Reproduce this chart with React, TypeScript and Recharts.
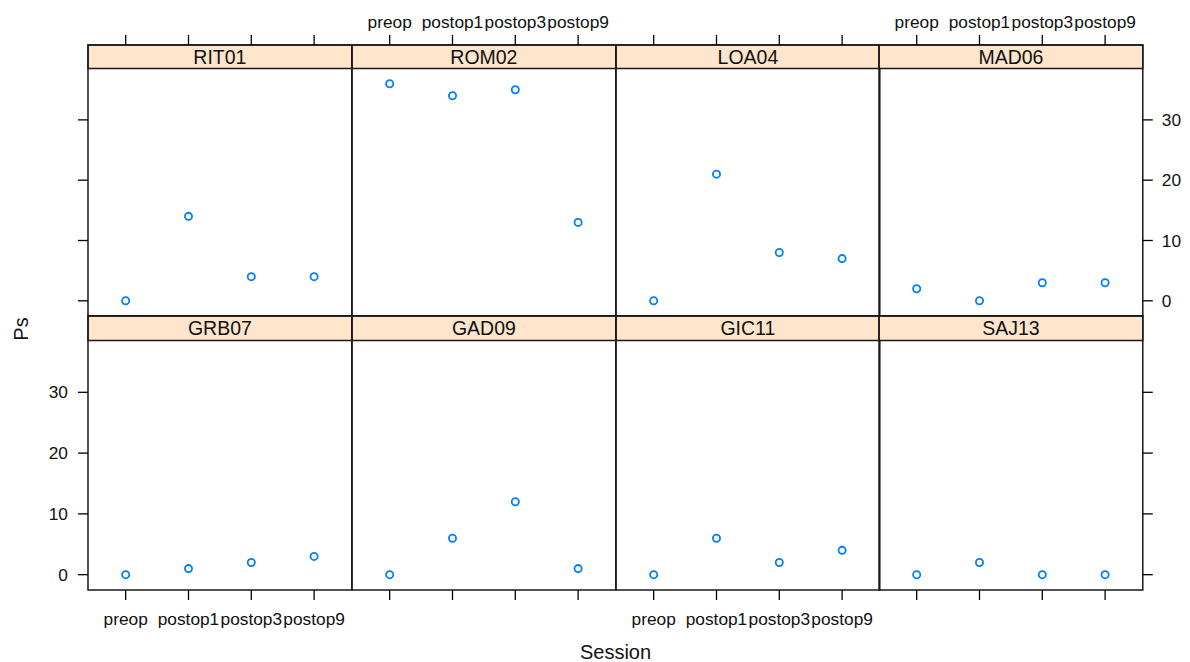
import React from 'react';
import { ScatterChart, Scatter, XAxis, YAxis, ReferenceArea } from 'recharts';

// ---- data ----
const sessions = ['preop', 'postop1', 'postop3', 'postop9'];
const subjects = ['RIT01', 'ROM02', 'LOA04', 'MAD06', 'GRB07', 'GAD09', 'GIC11', 'SAJ13'];
const RIT01 = [0, 14, 4, 4];
const ROM02 = [36, 34, 35, 13];
const LOA04 = [0, 21, 8, 7];
const MAD06 = [2, 0, 3, 3];
const GRB07 = [0, 1, 2, 3];
const GAD09 = [0, 6, 12, 1];
const GIC11 = [0, 6, 2, 4];
const SAJ13 = [0, 2, 0, 0];
const psValues = [RIT01, ROM02, LOA04, MAD06, GRB07, GAD09, GIC11, SAJ13];
const yTicks = [0, 10, 20, 30];
const xTicks = [1, 2, 3, 4];

// ---- layout ----
const FONT = '"Liberation Sans", Arial, Helvetica, sans-serif';
const ROWS = [
  { top: 45, stripBottom: 68.5, bottom: 316 },
  { top: 316, stripBottom: 340.5, bottom: 590 },
];
const COL_LEFT = 88;
const PANEL_W = 263.8;
const PAD = 70;
const VPAD = 40;
const STRIP_FILL = '#ffe5cc';
const BORDER = '#1a1a1a';
const POINT = '#0080ff';

const allVals = psValues.flat();
const dMin = Math.min(...allVals);
const dMax = Math.max(...allVals);
const ext = (dMax - dMin) * 0.07;
const yMin = dMin - ext;
const yMaxData = dMax + ext;

const Dot = (props: any) => {
  const { cx, cy } = props;
  if (cx == null || cy == null) return null;
  return <circle cx={cx} cy={cy} r={3.6} fill="none" stroke={POINT} strokeWidth={1.8} />;
};

function Panel({ idx }: { idx: number }) {
  const row = Math.floor(idx / 4);
  const col = idx % 4;
  const geo = ROWS[row];
  const plotH = geo.bottom - geo.stripBottom;
  const unitsPerPx = (yMaxData - yMin) / plotH;
  const yTop = yMaxData + (geo.stripBottom - geo.top) * unitsPerPx;
  const rowH = geo.bottom - geo.top;

  const data = sessions.map((s, i) => ({ x: i + 1, y: psValues[idx][i], session: s }));

  const isTop = row === 0;
  const showXLabels = isTop ? col % 2 === 1 : col % 2 === 0;
  const leftAxis = col === 0;
  const rightAxis = col === 3;
  const showYLabels = (leftAxis && row === 1) || (rightAxis && row === 0);

  const chartW = PANEL_W + 2 * PAD;
  const chartH = rowH + 2 * VPAD;
  const margin = {
    top: isTop ? 5 : VPAD,
    bottom: isTop ? VPAD : 5,
    left: leftAxis ? PAD - 60 : PAD,
    right: rightAxis ? PAD - 60 : PAD,
  };

  return (
    <div
      style={{
        position: 'absolute',
        left: COL_LEFT + col * PANEL_W - PAD,
        top: geo.top - VPAD,
        width: chartW,
        height: chartH,
      }}
    >
      <ScatterChart width={chartW} height={chartH} margin={margin}>
        <XAxis
          type="number"
          dataKey="x"
          domain={[0.4, 4.6]}
          ticks={xTicks}
          interval={0}
          allowDataOverflow
          orientation={isTop ? 'top' : 'bottom'}
          height={35}
          axisLine={false}
          tickSize={10}
          tickMargin={isTop ? 7 : 13}
          tickLine={{ stroke: '#000', strokeWidth: 1.3 }}
          tick={{ fill: '#111', fontSize: 17.3, fontFamily: FONT }}
          tickFormatter={(v: number) => (showXLabels ? sessions[v - 1] : '')}
        />
        <YAxis
          type="number"
          dataKey="y"
          domain={[yMin, yTop]}
          ticks={yTicks}
          interval={0}
          allowDataOverflow
          hide={!leftAxis && !rightAxis}
          orientation={rightAxis ? 'right' : 'left'}
          width={60}
          axisLine={false}
          tickSize={10}
          tickMargin={rightAxis ? 9 : 10}
          tickLine={{ stroke: '#000', strokeWidth: 1.3 }}
          tick={{ fill: '#111', fontSize: 17.3, fontFamily: FONT }}
          tickFormatter={(v: number) => (showYLabels ? String(v) : '')}
        />
        <ReferenceArea
          x1={0.4}
          x2={4.6}
          y1={yMaxData}
          y2={yTop}
          ifOverflow="visible"
          fill={STRIP_FILL}
          fillOpacity={1}
          stroke={BORDER}
          strokeWidth={1.5}
          label={{ value: subjects[idx], position: 'center', fill: '#111', fontSize: 19.5, fontFamily: FONT }}
        />
        <ReferenceArea
          x1={0.4}
          x2={4.6}
          y1={yMin}
          y2={yTop}
          ifOverflow="visible"
          fill="none"
          stroke={BORDER}
          strokeWidth={1.5}
        />
        <Scatter data={data} isAnimationActive={false} shape={Dot} />
      </ScatterChart>
    </div>
  );
}

export default function App() {
  return (
    <div
      style={{
        position: 'absolute',
        left: 0,
        top: 0,
        width: 1190,
        height: 662,
        background: '#fff',
        fontFamily: FONT,
        overflow: 'hidden',
      }}
    >
      {subjects.map((s, i) => (
        <Panel key={s} idx={i} />
      ))}
      <svg
        width={1190}
        height={662}
        style={{ position: 'absolute', left: 0, top: 0, pointerEvents: 'none' }}
      >
        <text
          x={21}
          y={329}
          transform="rotate(-90 21 329)"
          textAnchor="middle"
          dominantBaseline="central"
          fontSize={20}
          fontFamily={FONT}
          fill="#111"
        >
          Ps
        </text>
        <text x={615.5} y={659} textAnchor="middle" fontSize={20} fontFamily={FONT} fill="#111">
          Session
        </text>
      </svg>
    </div>
  );
}
